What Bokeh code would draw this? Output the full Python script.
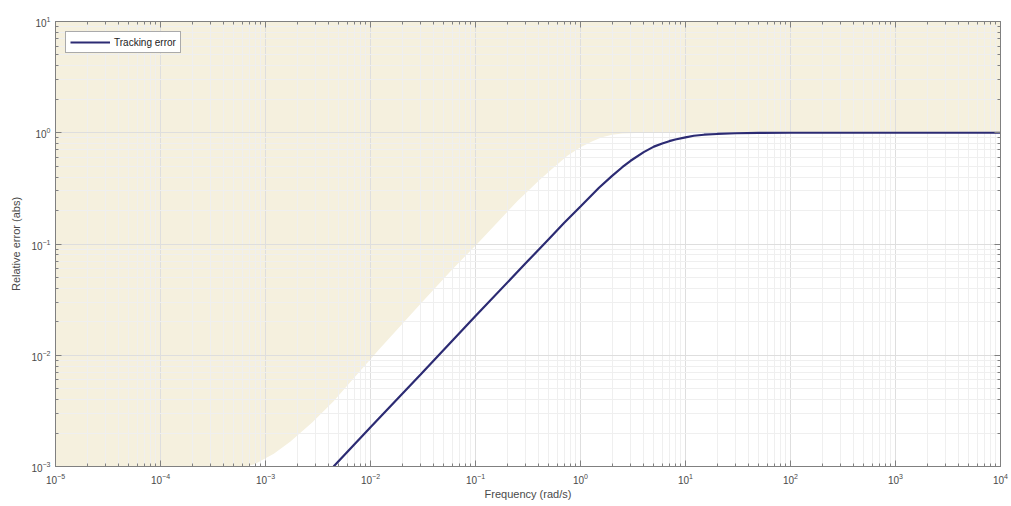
from bokeh.plotting import figure
from bokeh.models import LogAxis, FixedTicker, Range1d, Legend, LegendItem
from bokeh.embed import file_html
from bokeh.resources import INLINE

# Tracking error response
freq = [0.00445, 0.01, 0.03, 0.1, 0.3, 0.5, 0.7, 1, 1.5, 2, 2.5, 3, 4, 5, 6, 7, 8, 10, 12, 15, 20, 30, 50, 100, 1000, 10000]
err = [0.001, 0.00225, 0.0067, 0.0225, 0.067, 0.111, 0.155, 0.217, 0.32, 0.41, 0.49, 0.56, 0.67, 0.75, 0.80, 0.84, 0.87, 0.91, 0.94, 0.96, 0.975, 0.99, 0.996, 1.0, 1.0, 1.0]

# Boundary of the shaded (forbidden) region
bnd_freq = [1e-5, 1e-4, 5e-4, 7.7e-4, 1.2e-3, 1.73e-3, 2.8e-3, 4.45e-3, 0.0117, 0.03, 0.06, 0.112, 0.251, 0.4, 0.518, 0.75, 1.0, 1.3, 1.6, 2.0, 2.5, 4, 10000]
bnd_err = [0.0008, 0.0008, 0.00095, 0.00104, 0.0013, 0.00168, 0.0025, 0.00385, 0.0109, 0.029, 0.059, 0.108, 0.244, 0.37, 0.46, 0.62, 0.74, 0.84, 0.91, 0.96, 0.985, 1.0, 1.0]
bnd_top = [10.0] * len(bnd_freq)

x_decades = [-5, -4, -3, -2, -1, 0, 1, 2, 3, 4]
y_decades = [-3, -2, -1, 0, 1]

FONT = "Liberation Sans"
AX = "#808080"
LBL = "#4a4a4a"

p = figure(width=1011, height=506, x_axis_type="log", y_axis_type="log",
           x_range=Range1d(1e-5, 1e4), y_range=Range1d(1e-3, 1e1),
           output_backend="svg", toolbar_location=None,
           min_border_left=55, min_border_right=11, min_border_top=21, min_border_bottom=40)

xt = [10.0 ** d for d in x_decades]
xm = [k * 10.0 ** d for d in x_decades[:-1] for k in range(2, 10)]
yt = [10.0 ** d for d in y_decades]
ym = [k * 10.0 ** d for d in y_decades[:-1] for k in range(2, 10)]

shade = p.varea(x=bnd_freq, y1=bnd_err, y2=bnd_top, fill_color="#f5f0de", fill_alpha=1.0)
shade.level = "image"

ln = p.line(freq, err, line_color="#2c2b73", line_width=2.2)

xb = p.below[0]
yl = p.left[0]
xb.ticker = FixedTicker(ticks=xt, minor_ticks=xm)
yl.ticker = FixedTicker(ticks=yt, minor_ticks=ym)

top = LogAxis(ticker=FixedTicker(ticks=xt, minor_ticks=xm), major_label_text_font_size="1px")
right = LogAxis(ticker=FixedTicker(ticks=yt, minor_ticks=ym), major_label_text_font_size="1px")
p.add_layout(top, "above")
p.add_layout(right, "right")

for ax in (xb, yl, top, right):
    ax.major_tick_in = 6
    ax.major_tick_out = 0
    ax.minor_tick_in = 3
    ax.minor_tick_out = 0
    ax.axis_line_color = AX
    ax.major_tick_line_color = AX
    ax.minor_tick_line_color = AX
    ax.major_label_text_font = FONT
    ax.major_label_text_color = LBL
    ax.axis_label_text_font = FONT
    ax.axis_label_text_color = LBL
    ax.axis_label_text_font_style = "normal"

for ax in (top, right):
    ax.major_label_standoff = 0
    ax.major_label_text_alpha = 0

xb.major_label_text_font_size = "10px"
yl.major_label_text_font_size = "10px"
xb.axis_label = "Frequency (rad/s)"
yl.axis_label = "Relative error (abs)"
xb.axis_label_text_font_size = "11px"
yl.axis_label_text_font_size = "11px"
xb.major_label_standoff = 6
xb.axis_label_standoff = 1
yl.major_label_standoff = 5
yl.axis_label_standoff = 6

p.xgrid.grid_line_color = "#dedede"
p.ygrid.grid_line_color = "#dedede"
p.xgrid.minor_grid_line_color = "#efefef"
p.ygrid.minor_grid_line_color = "#efefef"
p.xgrid.ticker = FixedTicker(ticks=xt, minor_ticks=xm)
p.ygrid.ticker = FixedTicker(ticks=yt, minor_ticks=ym)

p.outline_line_color = AX
p.background_fill_color = "white"
p.border_fill_color = "white"

legend = Legend(items=[LegendItem(label="Tracking error", renderers=[ln])],
                location="top_left")
legend.label_text_font = FONT
legend.label_text_font_size = "10px"
legend.label_text_color = "#222222"
legend.border_line_color = "#555555"
legend.background_fill_color = "white"
legend.glyph_width = 40
legend.glyph_height = 12
legend.padding = 4
legend.spacing = 0
legend.margin = 10
legend.label_standoff = 4
legend.label_height = 12
p.add_layout(legend)

open("out.html", "w").write(file_html(p, INLINE))
